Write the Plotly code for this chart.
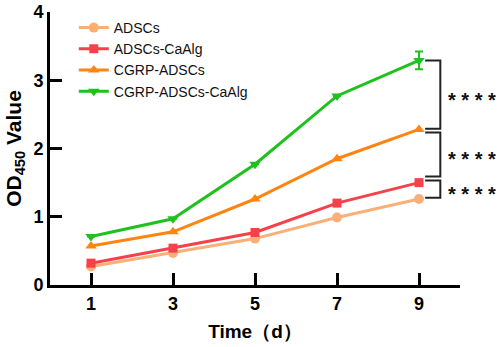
import plotly.graph_objects as go

days = [1, 3, 5, 7, 9]
adscs = [0.27, 0.47, 0.68, 0.99, 1.26]
adscs_caalg = [0.32, 0.54, 0.77, 1.20, 1.50]
cgrp_adscs = [0.57, 0.78, 1.26, 1.85, 2.28]
cgrp_adscs_caalg = [0.71, 0.97, 1.77, 2.77, 3.29]
cgrp_adscs_caalg_err = [0.0, 0.0, 0.0, 0.0, 0.13]

series_names = ["ADSCs", "ADSCs-CaAlg", "CGRP-ADSCs", "CGRP-ADSCs-CaAlg"]
colors = ["#F9B078", "#F8404A", "#FF8412", "#1FC21C"]
symbols = ["circle", "square", "triangle-up", "triangle-down"]
sizes = [10, 9, 10, 10]

# significance brackets: (top y, bottom y, label)
STARS = "* * * *"
brackets = [(3.29, 2.29, STARS), (2.235, 1.59, STARS), (1.53, 1.28, STARS)]

FONT = "Arial, Liberation Sans, sans-serif"

fig = go.Figure()
all_vals = [adscs, adscs_caalg, cgrp_adscs, cgrp_adscs_caalg]
for i, (name, vals) in enumerate(zip(series_names, all_vals)):
    kw = {}
    if name == "CGRP-ADSCs-CaAlg":
        kw["error_y"] = dict(type="data", array=cgrp_adscs_caalg_err, visible=True,
                             color=colors[i], thickness=2, width=4)
    fig.add_trace(go.Scatter(
        x=days, y=vals, name=name, mode="lines+markers",
        line=dict(color=colors[i], width=3),
        marker=dict(symbol=symbols[i], size=sizes[i], color=colors[i]),
        **kw))

for top, bot, label in brackets:
    fig.add_shape(type="path", xref="x", yref="y",
                  path=f"M 9.15,{top} L 9.52,{top} L 9.52,{bot} L 9.15,{bot}",
                  line=dict(color="#222222", width=2))
    fig.add_annotation(x=0.966, xref="paper", y=(top + bot) / 2, yref="y",
                       text=label, showarrow=False, xanchor="left", yanchor="middle",
                       yshift=-5,
                       font=dict(family=FONT, size=20, color="#111111", weight="bold"))

fig.update_layout(
    width=498, height=347,
    margin=dict(l=50, r=38, t=12, b=62, autoexpand=False),
    plot_bgcolor="white", paper_bgcolor="white",
    font=dict(family=FONT, color="black"),
    legend=dict(x=0.058, y=1.0, xanchor="left", yanchor="top",
                font=dict(family=FONT, size=14, color="#111111"),
                bgcolor="rgba(0,0,0,0)", itemwidth=30),
    xaxis=dict(range=[0, 10], tickvals=days, ticktext=[str(d) for d in days],
               automargin=False,
               showline=True, linecolor="black", linewidth=3,
               ticks="inside", ticklen=12, tickwidth=3, tickcolor="black",
               showgrid=False, zeroline=False,
               tickfont=dict(family=FONT, size=18, color="black", weight="bold"),
               title=dict(text="Time（d）", standoff=13,
                          font=dict(family=FONT, size=19, color="black", weight="bold"))),
    yaxis=dict(range=[0, 4], tickvals=[0, 1, 2, 3, 4],
               automargin=False,
               showline=True, linecolor="black", linewidth=3,
               ticks="inside", ticklen=12, tickwidth=3, tickcolor="black",
               showgrid=False, zeroline=False,
               tickfont=dict(family=FONT, size=18, color="black", weight="bold"),
               title=dict(text="OD<sub>450</sub> Value", standoff=7,
                          font=dict(family=FONT, size=21, color="black", weight="bold"))),
)

fig.write_html("out.html", config={"displayModeBar": False},
               post_script="document.body.style.margin='0';document.body.style.overflow='hidden';")
